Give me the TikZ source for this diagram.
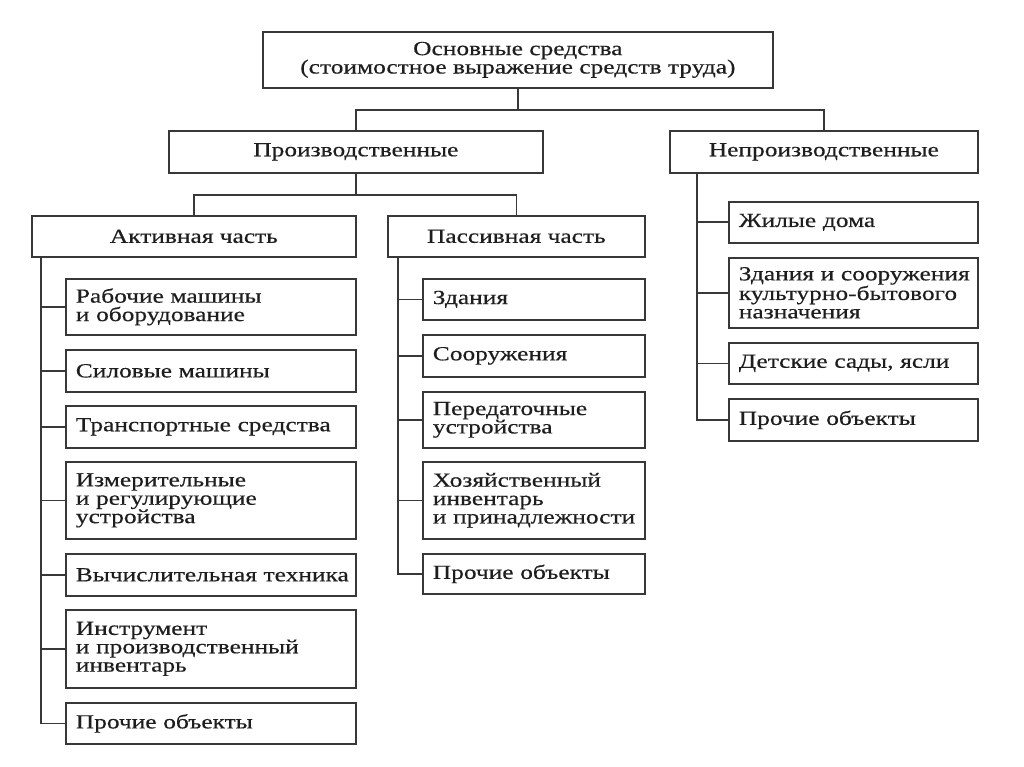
\documentclass[tikz,border=0pt]{standalone}
\usepackage{fontspec}
\setmainfont{Liberation Serif}[FakeStretch=1.27,FakeBold=0.4]
\usepackage{tikz}
\definecolor{boxline}{HTML}{383838}
\definecolor{boxtext}{HTML}{1E1E1E}
\newcommand{\boxfont}{\fontsize{20}{18.4}\selectfont}
\tikzset{
    % Boxes of the upper levels
    headbox/.style={draw=boxline, line width=1.7pt, text=boxtext, font=\boxfont,
        anchor=north west, align=center, inner sep=0pt},
    % Boxes of the lowest level, text on the left
    leafbox/.style={draw=boxline, line width=1.7pt, text=boxtext, font=\boxfont,
        anchor=north west, align=left, inner xsep=10pt, inner ysep=0pt, text width=#1},
    link/.style={draw=boxline, line width=1.7pt}
}

\begin{document}
\begin{tikzpicture}[x=1pt,y=-1pt]
    \useasboundingbox[fill=white] (0,0) rectangle (1024,767);
    % Top levels
    \node[headbox, minimum width=510, minimum height=56] (fixed) at (262,31) {Основные средства\\(стоимостное выражение средств труда)};
    \node[headbox, minimum width=374, minimum height=42] (prod) at (168,130) {Производственные};
    \node[headbox, minimum width=308, minimum height=42] (nonprod) at (669,130) {Непроизводственные};
    \node[headbox, minimum width=324, minimum height=41] (active) at (31,215) {Активная часть};
    \node[headbox, minimum width=257, minimum height=41] (passive) at (387,215) {Пассивная часть};

    % Active part
    \node[leafbox=270, minimum height=56] (a1) at (65,278) {Рабочие машины\\и оборудование};
    \node[leafbox=270, minimum height=42] (a2) at (65,349) {Силовые машины};
    \node[leafbox=270, minimum height=42] (a3) at (65,405) {Транспортные средства};
    \node[leafbox=270, minimum height=77] (a4) at (65,461) {Измерительные\\и регулирующие\\устройства};
    \node[leafbox=270, minimum height=42] (a5) at (65,553) {Вычислительная~техника};
    \node[leafbox=270, minimum height=78] (a6) at (65,609) {Инструмент\\и производственный\\инвентарь};
    \node[leafbox=270, minimum height=41] (a7) at (65,702) {Прочие объекты};

    % Passive part
    \node[leafbox=202, minimum height=41] (p1) at (422,278) {Здания};
    \node[leafbox=202, minimum height=42] (p2) at (422,334) {Сооружения};
    \node[leafbox=202, minimum height=56] (p3) at (422,391) {Передаточные\\устройства};
    \node[leafbox=202, minimum height=77] (p4) at (422,461) {Хозяйственный\\инвентарь\\и~принадлежности};
    \node[leafbox=202, minimum height=40] (p5) at (422,553) {Прочие объекты};

    % Non-productive
    \node[leafbox=229, minimum height=41] (n1) at (728,201) {Жилые дома};
    \node[leafbox=229, minimum height=70] (n2) at (728,257) {Здания~и~сооружения\\культурно-бытового\\назначения};
    \node[leafbox=229, minimum height=41] (n3) at (728,342) {Детские сады, ясли};
    \node[leafbox=229, minimum height=42] (n4) at (728,398) {Прочие объекты};

    % Tree links
    \draw[link] (fixed.south) -- ++(0,21) -| (prod.north);
    \draw[link] (fixed.south) -- ++(0,21) -| (nonprod.north);
    \draw[link] (prod.south) -- ++(0,21) -| (active.north);
    \draw[link] (prod.south) -- ++(0,21) -| (passive.north);

    \coordinate (atrunk) at ([xshift=10pt]active.south west);
    \coordinate (ptrunk) at ([xshift=11pt]passive.south west);
    \coordinate (ntrunk) at ([xshift=28pt]nonprod.south west);

    \draw[link] (atrunk) |- (a7.west);
    \draw[link] (atrunk |- a1.west) -- (a1.west);
    \draw[link] (atrunk |- a2.west) -- (a2.west);
    \draw[link] (atrunk |- a3.west) -- (a3.west);
    \draw[link] (atrunk |- a4.west) -- (a4.west);
    \draw[link] (atrunk |- a5.west) -- (a5.west);
    \draw[link] (atrunk |- a6.west) -- (a6.west);

    \draw[link] (ptrunk) |- (p5.west);
    \draw[link] (ptrunk |- p1.west) -- (p1.west);
    \draw[link] (ptrunk |- p2.west) -- (p2.west);
    \draw[link] (ptrunk |- p3.west) -- (p3.west);
    \draw[link] (ptrunk |- p4.west) -- (p4.west);

    \draw[link] (ntrunk) |- (n4.west);
    \draw[link] (ntrunk |- n1.west) -- (n1.west);
    \draw[link] (ntrunk |- n2.west) -- (n2.west);
    \draw[link] (ntrunk |- n3.west) -- (n3.west);
\end{tikzpicture}
\end{document}
